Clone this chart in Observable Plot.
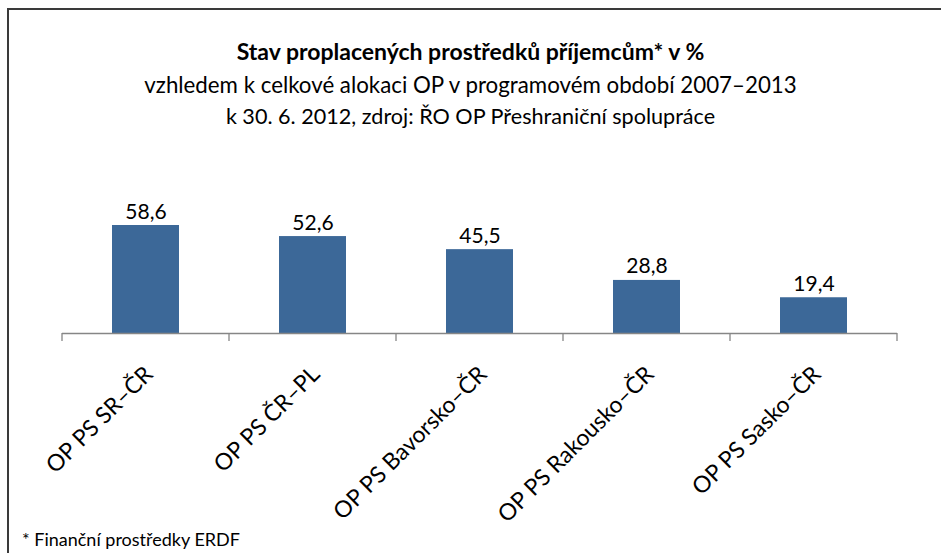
<!DOCTYPE html>
<html><head><meta charset="utf-8">
<script src="https://cdn.jsdelivr.net/npm/d3@7"></script>
<script src="https://cdn.jsdelivr.net/npm/@observablehq/plot@0.6"></script>
<style>
body{margin:0;background:#fff;font-family:Lato,"Noto Sans",sans-serif;color:#000}
#wrap{position:relative;width:941px;height:553px;overflow:hidden;background:#fff}
#frame{position:absolute;left:7px;top:8px;width:960px;height:580px;border-top:2px solid #3a3a3a;border-left:2px solid #3a3a3a;box-sizing:border-box}
.t{position:absolute;left:0;width:941px;text-align:center;line-height:1;white-space:nowrap}
#chart{position:absolute;left:0;top:150px}
#foot{position:absolute;left:22px;top:530px;font-size:18px;line-height:1}
</style></head>
<body>
<div id="wrap">
  <div id="chart"></div>
  <div id="frame"></div>
  <div class="t" id="title" style="top:40px;font-size:23px;font-weight:bold">Stav proplacených prostředků příjemcům* v %</div>
  <div class="t" id="sub1" style="top:74px;font-size:22.3px">vzhledem k celkové alokaci OP v programovém období 2007–2013</div>
  <div class="t" id="sub2" style="top:105.5px;font-size:21.6px">k 30. 6. 2012, zdroj: ŘO OP Přeshraniční spolupráce</div>
  <div id="foot">* Finanční prostředky ERDF</div>
</div>
<script>
const categories = ["OP PS SR–ČR", "OP PS ČR–PL", "OP PS Bavorsko–ČR", "OP PS Rakousko–ČR", "OP PS Sasko–ČR"];
const values = [58.6, 52.6, 45.5, 28.8, 19.4];

const data = categories.map((c, i) => ({category: c, value: values[i]}));
const fmt = v => v.toFixed(1).replace(".", ",");

function edgeTicks(index, scales, values, dims) {
  const x = scales.x, y = scales.y;
  const dom = x.domain();
  const step = typeof x.step === "function" ? x.step() : (x(dom[1]) - x(dom[0]));
  const bw = typeof x.bandwidth === "function" ? x.bandwidth() : 0;
  const half = (step - bw) / 2;
  const edges = dom.map(d => x(d) - half);
  edges.push(x(dom[dom.length - 1]) + bw + half);
  const y0 = y(0);
  const g = d3.create("svg:g").attr("stroke", "#868686").attr("stroke-width", 1.3);
  for (const e of edges) {
    g.append("line").attr("x1", e).attr("x2", e).attr("y1", y0).attr("y2", y0 + 8);
  }
  return g.node();
}

const plot = Plot.plot({
  width: 941,
  height: 403,
  marginLeft: 62,
  marginRight: 44,
  marginTop: 54,
  marginBottom: 220,
  style: {background: "transparent", overflow: "visible", fontFamily: "Lato, 'Noto Sans', sans-serif", color: "#000"},
  x: {domain: categories, paddingInner: 0.6, paddingOuter: 0.3, label: null},
  y: {domain: [0, 70], axis: null},
  marks: [
    Plot.barY(data, {x: "category", y: "value", fill: "#3C6898"}),
    Plot.ruleY([0], {stroke: "#868686", strokeWidth: 1.3}),
    edgeTicks,
    Plot.text(data, {x: "category", y: "value", text: d => fmt(d.value), lineAnchor: "bottom", dy: -7, fontSize: 21, fill: "#000"}),
    Plot.axisX({tickRotate: -45, tickSize: 0, tickPadding: 37, dx: 3, fontSize: 23, label: null, fill: "#000"})
  ]
});
document.getElementById("chart").appendChild(plot);
</script>
</body></html>
